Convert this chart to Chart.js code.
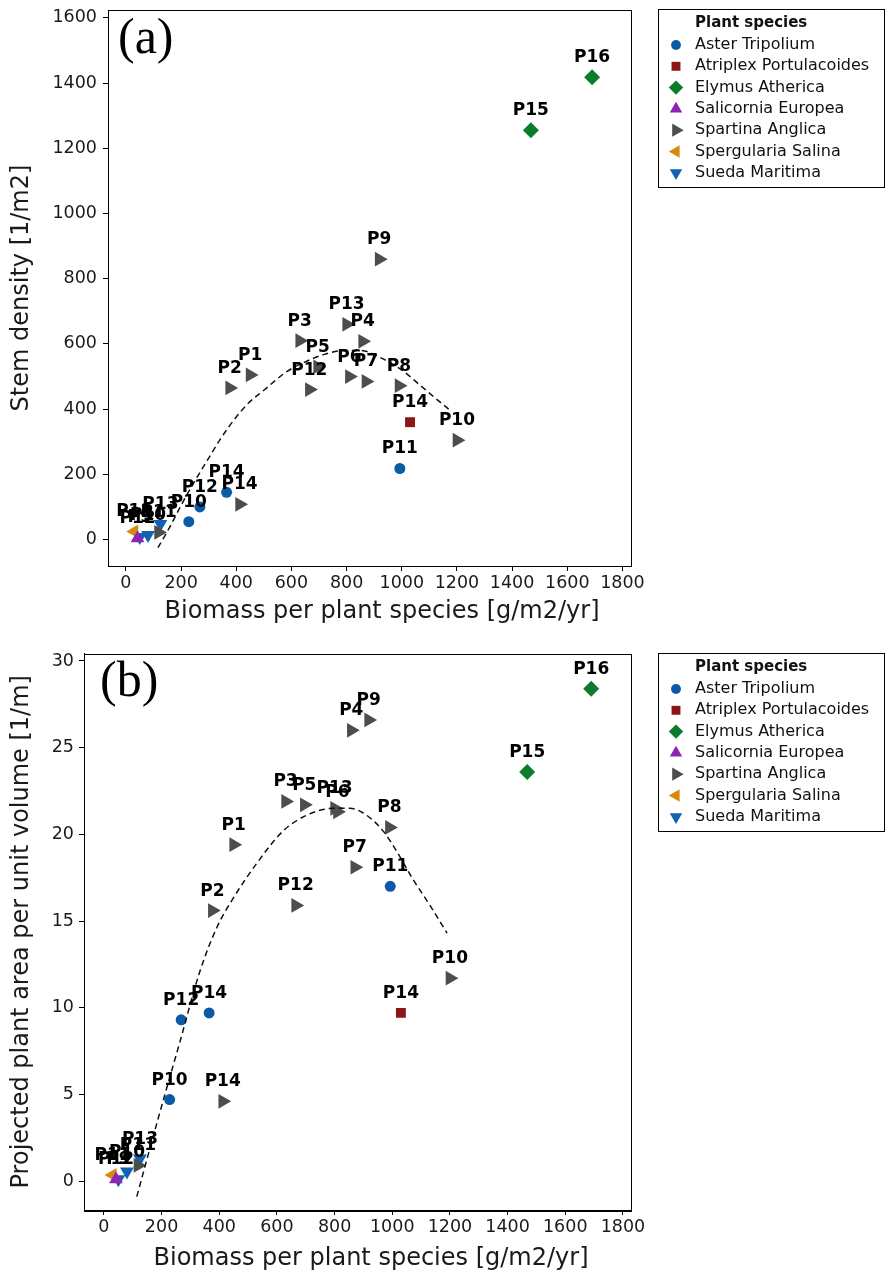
<!DOCTYPE html>
<html>
<head>
<meta charset="utf-8">
<script src="https://cdn.jsdelivr.net/npm/chart.js@4.4.1/dist/chart.umd.min.js"></script>
<style>
  html, body { margin: 0; padding: 0; background: #fff; }
  canvas { display: block; }
</style>
</head>
<body>
<canvas id="chart-a" width="886" height="630"></canvas>
<canvas id="chart-b" width="886" height="645"></canvas>
<script>
// Plot observations per species: plot id, biomass [g/m2/yr], stem density [1/m2], projected area [1/m]
const asterPlots = ['P10', 'P11', 'P12', 'P14'];
const asterBiomass = [228, 993, 268, 365];
const asterDensity = [55, 218, 100, 145];
const asterArea = [4.7, 17.0, 9.3, 9.7];

const atriplexPlots = ['P14'];
const atriplexBiomass = [1030];
const atriplexDensity = [360];
const atriplexArea = [9.7];

const elymusPlots = ['P15', 'P16'];
const elymusBiomass = [1468, 1690];
const elymusDensity = [1255, 1418];
const elymusArea = [23.6, 28.4];

const salicorniaPlots = ['P12'];
const salicorniaBiomass = [42];
const salicorniaDensity = [4];
const salicorniaArea = [0.1];

const spartinaPlots = ['P1', 'P2', 'P3', 'P4', 'P5', 'P6', 'P7', 'P8', 'P9', 'P10', 'P11', 'P12', 'P13', 'P14'];
const spartinaBiomass = [450, 376, 630, 858, 695, 810, 870, 990, 918, 1200, 118, 665, 800, 412];
const spartinaDensity = [505, 465, 610, 608, 530, 500, 485, 472, 860, 305, 22, 460, 660, 108];
const spartinaArea = [19.4, 15.6, 21.9, 26.0, 21.7, 21.3, 18.1, 20.4, 26.6, 11.7, 0.9, 15.9, 21.5, 4.6];

const spergulariaPlots = ['P11'];
const spergulariaBiomass = [30];
const spergulariaDensity = [25];
const spergulariaArea = [0.35];

const suedaPlots = ['P9', 'P10', 'P13'];
const suedaBiomass = [50, 80, 125];
const suedaDensity = [8, 14, 48];
const suedaArea = [0.1, 0.55, 1.3];

// Fitted trend curves (dashed)
const densityFitX = [116, 160, 200, 250, 300, 340, 390, 440, 500, 583, 650, 720, 790, 850, 930, 1000, 1060, 1120, 1170];
const densityFitY = [-25, 40, 105, 180, 250, 305, 365, 415, 458, 515, 545, 568, 580, 580, 555, 520, 478, 435, 400];
const areaFitX = [114, 183, 264, 333, 391, 448, 529, 622, 703, 796, 853, 911, 968, 1016, 1072, 1131, 1190];
const areaFitY = [-0.9, 3.3, 8.05, 12.1, 14.6, 16.3, 18.3, 20.2, 21.1, 21.5, 21.5, 21.1, 20.2, 19.0, 17.4, 15.9, 14.3];

Chart.defaults.font.family = '"DejaVu Sans"';
Chart.defaults.color = '#1a1a1a';

function species(label, color, style, rot, r, xs, ys, plots) {
  return {
    label: label,
    plots: plots,
    data: xs.map((x, i) => ({ x: x, y: ys[i] })),
    pointStyle: style,
    pointRotation: rot,
    pointRadius: r,
    pointHoverRadius: r,
    pointBackgroundColor: color,
    backgroundColor: color,
    borderColor: color,
    pointBorderWidth: 0,
    showLine: false,
    order: 1
  };
}

function fitLine(xs, ys) {
  return {
    data: xs.map((x, i) => ({ x: x, y: ys[i] })),
    showLine: true,
    borderColor: '#111',
    borderWidth: 1.5,
    borderDash: [6, 4],
    pointRadius: 0,
    cubicInterpolationMode: 'monotone',
    fill: false,
    order: 0
  };
}

// labels above each marker
const plotLabels = {
  id: 'plotLabels',
  afterDatasetsDraw(chart) {
    const ctx = chart.ctx;
    ctx.save();
    ctx.font = 'bold 17px "DejaVu Sans"';
    ctx.fillStyle = '#000';
    ctx.textAlign = 'center';
    ctx.textBaseline = 'alphabetic';
    chart.data.datasets.forEach((ds, i) => {
      if (!ds.plots) return;
      chart.getDatasetMeta(i).data.forEach((pt, j) => {
        ctx.fillText(ds.plots[j], pt.x, pt.y - 15);
      });
    });
    ctx.restore();
  }
};

// box around the plot, panel letter and x title
const plotFrame = {
  id: 'plotFrame',
  afterDraw(chart, args, opts) {
    const ctx = chart.ctx;
    const a = chart.chartArea;
    ctx.save();
    ctx.strokeStyle = '#000';
    ctx.lineWidth = 1;
    ctx.strokeRect(Math.round(a.left) + 0.5, Math.round(a.top) + 0.5,
      Math.round(a.right - a.left), Math.round(a.bottom - a.top));
    ctx.fillStyle = '#000';
    ctx.textBaseline = 'alphabetic';
    ctx.font = '50px "Liberation Serif"';
    ctx.textAlign = 'left';
    ctx.fillText(opts.panel, opts.panelX, opts.panelY);
    ctx.fillStyle = '#1a1a1a';
    ctx.font = '24px "DejaVu Sans"';
    ctx.textAlign = 'center';
    ctx.fillText('Biomass per plant species [g/m2/yr]', opts.titleX, opts.titleY);
    ctx.restore();
  }
};

// species legend to the right of the plot
const speciesLegend = {
  id: 'speciesLegend',
  afterDraw(chart) {
    const ctx = chart.ctx;
    const top = Math.round(chart.chartArea.top);
    const left = 658;
    ctx.save();
    ctx.strokeStyle = '#000';
    ctx.lineWidth = 1;
    ctx.strokeRect(left + 0.5, top - 0.5, 226, 178);
    ctx.textBaseline = 'middle';
    ctx.textAlign = 'left';
    ctx.fillStyle = '#111';
    ctx.font = 'bold 15px "DejaVu Sans"';
    ctx.fillText('Plant species', left + 37, top + 13);
    ctx.font = '16px "DejaVu Sans"';
    chart.data.datasets.filter(ds => ds.plots).forEach((ds, k) => {
      const y = top + 35 + k * 21.3;
      ctx.fillStyle = ds.pointBackgroundColor;
      Chart.helpers.drawPoint(ctx, {
        pointStyle: ds.pointStyle,
        rotation: ds.pointRotation,
        radius: ds.pointRadius * 0.9,
        borderWidth: 0
      }, left + 18, y);
      ctx.fillStyle = '#111';
      ctx.fillText(ds.label, left + 37, y);
    });
    ctx.restore();
  }
};

function scales(xMin, xMax, yMin, yMax, yStep, yWidth, xHeight, yTitle, yPad) {
  const grid = { drawOnChartArea: false, drawTicks: true, tickLength: 5, color: '#000' };
  const plain = v => String(v);
  return {
    x: {
      type: 'linear',
      min: xMin, max: xMax,
      ticks: { stepSize: 200, includeBounds: false, padding: 2, font: { size: 17.5 }, color: '#1a1a1a', callback: plain },
      grid: grid,
      border: { display: true, color: '#000', width: 1 },
      afterFit(s) { s.height = xHeight; s.paddingLeft = 0; s.paddingRight = 0; }
    },
    y: {
      type: 'linear',
      min: yMin, max: yMax,
      ticks: { stepSize: yStep, includeBounds: false, padding: yPad, font: { size: 17.5 }, color: '#1a1a1a', callback: plain },
      grid: grid,
      border: { display: true, color: '#000', width: 1 },
      title: { display: true, text: yTitle, font: { size: 24 }, color: '#1a1a1a', padding: { top: 7.6, bottom: 0 } },
      afterFit(s) { s.width = yWidth; s.paddingTop = 0; s.paddingBottom = 0; }
    }
  };
}

function datasets(yKey) {
  const pick = (d, a) => yKey === 'density' ? d : a;
  return [
    fitLine(pick(densityFitX, areaFitX), pick(densityFitY, areaFitY)),
    species('Aster Tripolium', '#0b5aa8', 'circle', 0, 5.5, asterBiomass, pick(asterDensity, asterArea), asterPlots),
    species('Atriplex Portulacoides', '#8c1616', 'rect', 0, 7, atriplexBiomass, pick(atriplexDensity, atriplexArea), atriplexPlots),
    species('Elymus Atherica', '#0a7d2c', 'rectRot', 0, 8, elymusBiomass, pick(elymusDensity, elymusArea), elymusPlots),
    species('Salicornia Europea', '#8d24b3', 'triangle', 0, 8, salicorniaBiomass, pick(salicorniaDensity, salicorniaArea), salicorniaPlots),
    species('Spartina Anglica', '#4d4d4d', 'triangle', 90, 8.5, spartinaBiomass, pick(spartinaDensity, spartinaArea), spartinaPlots),
    species('Spergularia Salina', '#d68b0e', 'triangle', 270, 8, spergulariaBiomass, pick(spergulariaDensity, spergulariaArea), spergulariaPlots),
    species('Sueda Maritima', '#1361b1', 'triangle', 180, 8, suedaBiomass, pick(suedaDensity, suedaArea), suedaPlots)
  ];
}

function baseOptions(padTop, sc, frame) {
  return {
    responsive: false,
    animation: false,
    devicePixelRatio: 1,
    layout: { padding: { top: padTop, right: 255, left: 0, bottom: 0 } },
    scales: sc,
    plugins: {
      legend: { display: false },
      tooltip: { enabled: false },
      plotFrame: frame
    }
  };
}

new Chart(document.getElementById('chart-a'), {
  type: 'scatter',
  data: { datasets: datasets('density') },
  options: baseOptions(10,
    scales(-65, 1831, -81, 1624, 200, 108, 64, 'Stem density [1/m2]', 6),
    { panel: '(a)', panelX: 118, panelY: 53, titleX: 382, titleY: 618 }),
  plugins: [plotFrame, plotLabels, speciesLegend]
});

new Chart(document.getElementById('chart-b'), {
  type: 'scatter',
  data: { datasets: datasets('area') },
  options: baseOptions(23.5,
    scales(-69, 1828, -1.67, 30.43, 5, 84, 65, 'Projected plant area per unit volume [1/m]', 5),
    { panel: '(b)', panelX: 100, panelY: 66, titleX: 371, titleY: 635 }),
  plugins: [plotFrame, plotLabels, speciesLegend]
});
</script>
</body>
</html>
